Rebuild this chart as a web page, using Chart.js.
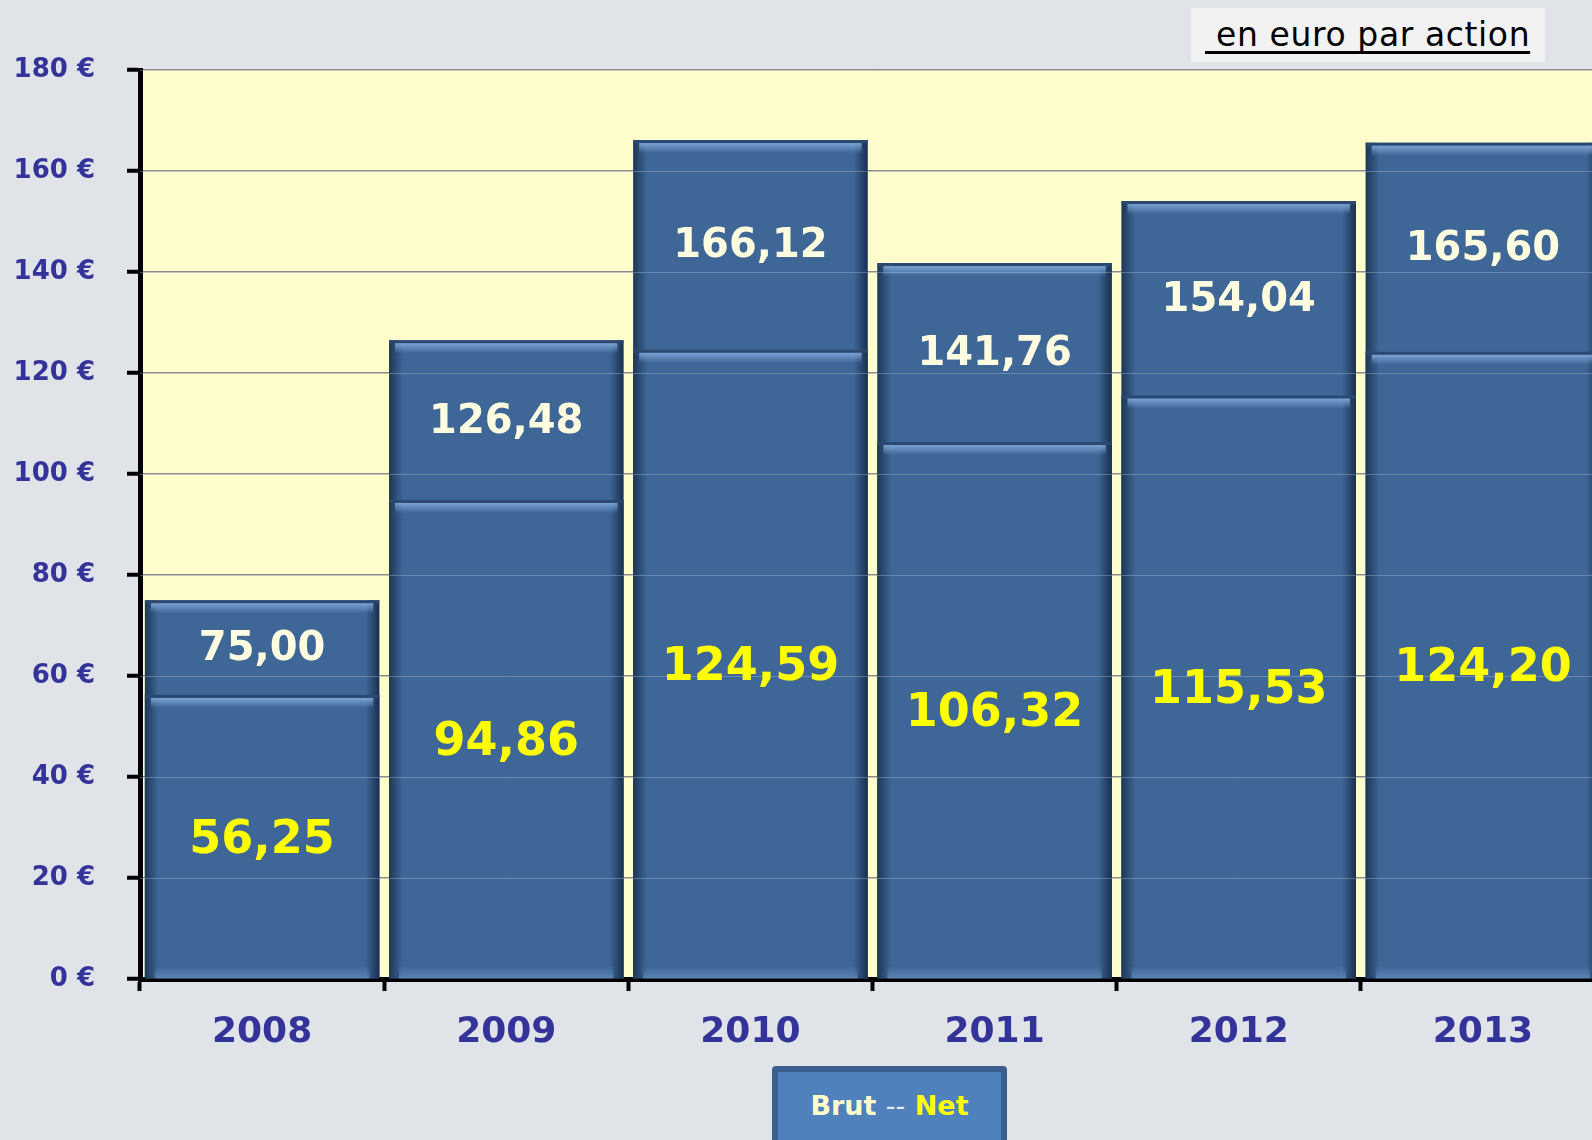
<!DOCTYPE html>
<html>
<head>
<meta charset="utf-8">
<script src="https://cdn.jsdelivr.net/npm/chart.js@4.4.1/dist/chart.umd.min.js"></script>
<style>
  body { margin: 0; background: #e0e3e8; overflow: hidden; width: 1592px; height: 1140px; position: relative; }
  #chart { position: absolute; left: 0; top: 0; }
  .unit { position: absolute; left: 1191px; top: 8px; width: 354px; height: 54px; background: #f2f2f2;
          font: 33px "DejaVu Sans", sans-serif; color: #000; line-height: 54px; padding-left: 14px; box-sizing: border-box;
          letter-spacing: 0.6px; white-space: nowrap; }
  .unit span { text-decoration: underline; text-decoration-thickness: 3px; text-underline-offset: 5px; text-decoration-skip-ink: none; }
  .legend { position: absolute; left: 772px; top: 1066px; width: 235px; height: 90px; box-sizing: border-box;
            background: #4f81bd; border: 6px solid #3a5f8e; border-radius: 4px;
            font: bold 27px "DejaVu Sans", sans-serif; text-align: center; padding-top: 18px; white-space: nowrap; }
</style>
</head>
<body>
<canvas id="chart" width="1605" height="1140"></canvas>
<div class="unit"><span>&nbsp;en euro par action</span></div>
<div class="legend"><span style="color:#ffffcc">Brut</span> <span style="color:#e8ecf4;font-weight:normal">--</span> <span style="color:#ffff00">Net</span></div>
<script>
// Dividende par action (en euro)
const years = ['2008', '2009', '2010', '2011', '2012', '2013'];
const brut = [75.00, 126.48, 166.12, 141.76, 154.04, 165.60];
const net = [56.25, 94.86, 124.59, 106.32, 115.53, 124.20];
const yMax = 180;
const yStep = 20;

const fmt = v => v.toFixed(2).replace('.', ',');
const barBlue = '#3e6797';

// Plot area background
const plotBg = {
    id: 'plotBg',
    beforeDraw(chart) {
        const { ctx, chartArea: a } = chart;
        ctx.save();
        ctx.fillStyle = '#fffdcc';
        ctx.fillRect(a.left, a.top, a.right - a.left, a.bottom - a.top);
        ctx.restore();
    }
};

// Bevel look on each bar
function bevel(ctx, el) {
    const { x, y, base, width } = el.getProps(['x', 'y', 'base', 'width'], true);
    const l = x - width / 2, r = x + width / 2, t = y, b = base, h = b - t;
    let g;
    // left edge
    g = ctx.createLinearGradient(l, 0, l + 14, 0);
    g.addColorStop(0, 'rgba(18,38,66,0.75)');
    g.addColorStop(1, 'rgba(18,38,66,0)');
    ctx.fillStyle = g;
    ctx.fillRect(l, t, 14, h);
    // right edge
    g = ctx.createLinearGradient(r - 14, 0, r, 0);
    g.addColorStop(0, 'rgba(18,38,66,0)');
    g.addColorStop(1, 'rgba(18,38,66,0.85)');
    ctx.fillStyle = g;
    ctx.fillRect(r - 14, t, 14, h);
    // bottom edge
    g = ctx.createLinearGradient(0, b - 12, 0, b);
    g.addColorStop(0, 'rgba(110,150,200,0)');
    g.addColorStop(1, 'rgba(110,150,200,0.6)');
    ctx.fillStyle = g;
    ctx.fillRect(l + 10, b - 12, width - 20, 12);
    // top: dark line then highlight band
    ctx.fillStyle = '#2a4870';
    ctx.fillRect(l, t, width, 3);
    g = ctx.createLinearGradient(0, t + 3, 0, t + 13);
    g.addColorStop(0, 'rgba(125,165,215,0.95)');
    g.addColorStop(1, 'rgba(125,165,215,0)');
    ctx.fillStyle = g;
    ctx.fillRect(l + 6, t + 3, width - 12, 10);
}

const bevelPlugin = {
    id: 'bevel',
    afterDatasetDraw(chart, args) {
        const ctx = chart.ctx;
        ctx.save();
        args.meta.data.forEach(el => bevel(ctx, el));
        ctx.restore();
    }
};

// Faint grid lines over the bars + value labels
const overlay = {
    id: 'overlay',
    afterDatasetsDraw(chart) {
        const { ctx, chartArea: a, scales: { x, y } } = chart;
        ctx.save();
        ctx.strokeStyle = 'rgba(190,200,215,0.35)';
        ctx.lineWidth = 1;
        for (let v = yStep; v <= yMax; v += yStep) {
            const py = Math.round(y.getPixelForValue(v)) + 0.5;
            ctx.beginPath();
            ctx.moveTo(a.left, py);
            ctx.lineTo(a.right, py);
            ctx.stroke();
        }
        ctx.textAlign = 'center';
        ctx.textBaseline = 'middle';
        years.forEach((yr, i) => {
            const cx = x.getPixelForValue(i);
            const yb = y.getPixelForValue(brut[i]);
            const yn = y.getPixelForValue(net[i]);
            const y0 = y.getPixelForValue(0);
            ctx.font = 'bold 40px "DejaVu Sans"';
            ctx.fillStyle = '#fffde0';
            ctx.fillText(fmt(brut[i]), cx, (yb + yn) / 2 + 2);
            ctx.font = 'bold 46px "DejaVu Sans"';
            ctx.fillStyle = '#ffff00';
            ctx.fillText(fmt(net[i]), cx, (yn + y0) / 2 + 4);
        });
        ctx.restore();
    }
};

new Chart(document.getElementById('chart'), {
    type: 'bar',
    data: {
        labels: years,
        datasets: [
            { label: 'Brut', data: brut, backgroundColor: barBlue, order: 2 },
            { label: 'Net', data: net, backgroundColor: barBlue, order: 1 }
        ]
    },
    options: {
        responsive: false,
        animation: false,
        devicePixelRatio: 1,
        layout: { padding: { top: 70, right: 0, left: 0, bottom: 0 } },
        datasets: { bar: { grouped: false, barPercentage: 0.96, categoryPercentage: 1, borderWidth: 0 } },
        plugins: { legend: { display: false }, tooltip: { enabled: false } },
        scales: {
            x: {
                afterFit(s) { s.height = 161; },
                grid: { drawOnChartArea: false, drawTicks: true, tickLength: 12, tickColor: '#000', tickWidth: 4, offset: true },
                border: { display: true, color: '#000', width: 5 },
                ticks: { color: '#333399', font: { family: 'DejaVu Sans', size: 36, weight: 'bold' }, padding: 20 }
            },
            y: {
                min: 0,
                max: yMax,
                afterFit(s) { s.width = 140; },
                grid: { color: '#8c8c8c', lineWidth: 1.5, drawTicks: true, tickLength: 13, tickColor: '#000', tickWidth: 4 },
                border: { display: true, color: '#000', width: 5 },
                ticks: {
                    stepSize: yStep,
                    color: '#333399',
                    font: { family: 'DejaVu Sans', size: 26, weight: 'bold' },
                    padding: 32,
                    callback: v => v + ' €'
                }
            }
        }
    },
    plugins: [plotBg, bevelPlugin, overlay]
});
</script>
</body>
</html>
